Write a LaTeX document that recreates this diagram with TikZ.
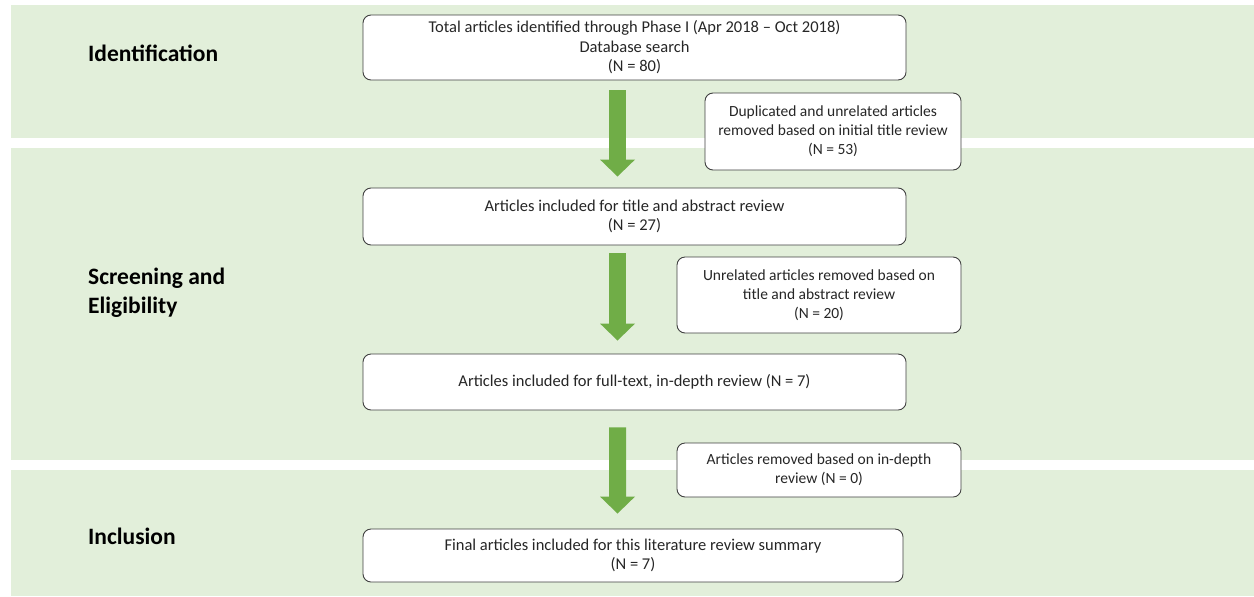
\documentclass[tikz,border=0pt]{standalone}
\usepackage{fontspec}
\setmainfont{Carlito}
\usepackage{tikz}
\usetikzlibrary{arrows.meta}
\definecolor{bandgreen}{HTML}{E2EFDA}
\definecolor{arrowgreen}{HTML}{70AD47}
\definecolor{boxline}{HTML}{404040}
\begin{document}
\begin{tikzpicture}[scale=0.35146]
\tikzstyle{every node}+=[inner sep=0pt]
\tikzstyle{band}=[fill=bandgreen, draw=none]
\tikzstyle{box}=[draw=boxline, line width=0.9pt, fill=white, rounded corners=8pt, align=center, font=\fontsize{16.5}{19.5}\selectfont, text=black!85]
\tikzstyle{sidebox}=[box, font=\fontsize{15.5}{19}\selectfont]
\tikzstyle{phase}=[anchor=west, align=left, font=\fontsize{23.5}{29}\selectfont\bfseries]
\tikzstyle{bigarrow}=[draw=arrowgreen, line width=17pt, -{Triangle[width=34pt,length=17pt]}]
\useasboundingbox (0,0) rectangle (125.4,-59.6);
\fill [band] (1.1,-0.5) rectangle (125.4,-13.8);
\fill [band] (1.1,-14.8) rectangle (125.4,-46.0);
\fill [band] (1.1,-47.0) rectangle (125.4,-59.6);
\node [phase] (ident) at (8.8,-5.3) {Identification};
\node [phase] (screen) at (8.8,-29.3) {Screening and\\Eligibility};
\node [phase] (incl) at (8.8,-53.6) {Inclusion};
\node [box, minimum width=543pt, minimum height=65pt] (total) at (63.45,-4.75) {Total articles identified through Phase I (Apr 2018 – Oct 2018)\\Database search\\(N = 80)};
\node [sidebox, minimum width=256pt, minimum height=77pt] (dup) at (83.3,-13.15) {Duplicated and unrelated articles\\removed based on initial title review\\(N = 53)};
\node [box, minimum width=543pt, minimum height=57pt] (title) at (63.45,-21.65) {Articles included for title and abstract review\\(N = 27)};
\node [sidebox, minimum width=284pt, minimum height=76pt] (unrel) at (81.9,-29.5) {Unrelated articles removed based on\\title and abstract review\\(N = 20)};
\node [box, minimum width=543pt, minimum height=56pt] (full) at (63.45,-38.2) {Articles included for full-text, in-depth review (N = 7)};
\node [sidebox, minimum width=284pt, minimum height=54pt] (indepth) at (81.9,-47.0) {Articles removed based on in-depth\\review (N = 0)};
\node [box, minimum width=540pt, minimum height=53pt] (final) at (63.3,-55.55) {Final articles included for this literature review summary\\(N = 7)};
\draw [bigarrow, shorten <=10pt, shorten >=11pt] ([xshift=-48.4pt]total.south) -- ([xshift=-48.4pt]title.north);
\draw [bigarrow, shorten <=8pt, shorten >=13pt] ([xshift=-48.4pt]title.south) -- ([xshift=-48.4pt]full.north);
\draw [bigarrow, shorten <=17pt, shorten >=15pt] ([xshift=-48.4pt]full.south) -- ([xshift=-44.1pt]final.north);
\end{tikzpicture}
\end{document}
